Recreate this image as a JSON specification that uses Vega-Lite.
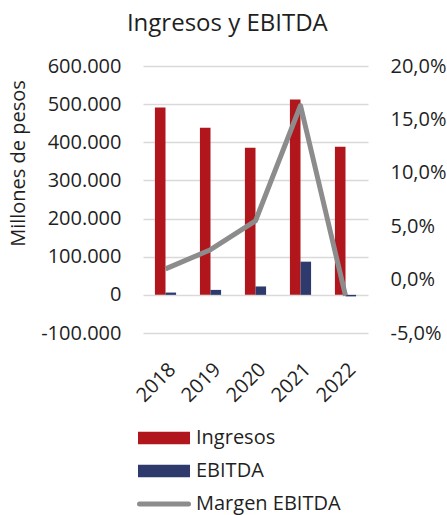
{
  "$schema": "https://vega.github.io/schema/vega-lite/v6.json",
  "autosize": "none",
  "width": 225,
  "height": 267,
  "padding": {"left": 143, "top": 66, "right": 79, "bottom": 182},
  "config": {
    "locale": {"number": {"decimal": ",", "thousands": ".", "grouping": [3], "currency": ["$", ""], "minus": "-"}},
    "font": "Open Sans",
    "view": {"stroke": null},
    "axis": {"labelFont": "Open Sans", "labelFontSize": 20, "labelColor": "#1f1f1f", "titleFont": "Open Sans", "titleFontSize": 20, "titleFontWeight": "normal", "titleColor": "#1f1f1f", "domain": false, "ticks": false}
  },
  "title": {"text": "Ingresos y EBITDA", "fontSize": 24, "fontWeight": "normal", "color": "#1f1f1f", "font": "Open Sans", "anchor": "middle", "frame": "bounds", "offset": 20},
  "datasets": {
    "barras": [
      {"anio": "2018", "serie": "Ingresos", "valor": 491000},
      {"anio": "2019", "serie": "Ingresos", "valor": 438000},
      {"anio": "2020", "serie": "Ingresos", "valor": 386000},
      {"anio": "2021", "serie": "Ingresos", "valor": 512000},
      {"anio": "2022", "serie": "Ingresos", "valor": 388000},
      {"anio": "2018", "serie": "EBITDA", "valor": 6000},
      {"anio": "2019", "serie": "EBITDA", "valor": 13000},
      {"anio": "2020", "serie": "EBITDA", "valor": 22000},
      {"anio": "2021", "serie": "EBITDA", "valor": 87000},
      {"anio": "2022", "serie": "EBITDA", "valor": -4000}
    ],
    "margen": [
      {"anio": "2018", "serie": "Margen EBITDA", "valor": 0.010},
      {"anio": "2019", "serie": "Margen EBITDA", "valor": 0.028},
      {"anio": "2020", "serie": "Margen EBITDA", "valor": 0.055},
      {"anio": "2021", "serie": "Margen EBITDA", "valor": 0.163},
      {"anio": "2022", "serie": "Margen EBITDA", "valor": -0.015}
    ]
  },
  "layer": [
    {
      "data": {"name": "barras"},
      "mark": {"type": "bar"},
      "encoding": {
        "x": {"field": "anio", "type": "nominal", "scale": {"paddingInner": 0.53, "paddingOuter": 0.265},
              "axis": {"title": null, "labelAngle": -45, "labelPadding": 26}},
        "xOffset": {"field": "serie", "type": "nominal", "sort": ["Ingresos", "EBITDA"], "scale": {"paddingInner": 0, "paddingOuter": 0}},
        "y": {"field": "valor", "type": "quantitative", "scale": {"domain": [-100000, 600000], "nice": false},
              "axis": {"title": "Millones de pesos", "titlePadding": 12, "titleY": 97, "labelPadding": 22, "grid": true, "gridColor": "#D9D9D9", "gridWidth": 1.5,
                       "values": [-100000, 0, 100000, 200000, 300000, 400000, 500000, 600000], "format": ",.0f"}},
        "color": {"field": "serie", "type": "nominal",
                  "scale": {"domain": ["Ingresos", "EBITDA", "Margen EBITDA"], "range": ["#B0161C", "#2E3A6B", "#8C8C8C"]},
                  "legend": {"orient": "none", "legendX": 11, "legendY": 362, "direction": "vertical", "title": null,
                             "labelFontSize": 20, "labelColor": "#1f1f1f", "labelFont": "Open Sans", "symbolSize": 100, "symbolStrokeWidth": 0, "rowPadding": 13, "labelOffset": 22,
                             "encode": {"symbols": {"update": {
                               "shape": {"signal": "datum.value === 'Margen EBITDA' ? 'M-4.9,0H4.9' : 'M-5.2,-1.25H5.2V1.25H-5.2Z'"},
                               "fill": {"signal": "datum.value === 'Margen EBITDA' ? 'transparent' : scale('color', datum.value)"},
                               "stroke": {"signal": "datum.value === 'Margen EBITDA' ? '#8C8C8C' : 'transparent'"},
                               "strokeWidth": {"signal": "datum.value === 'Margen EBITDA' ? 5 : 0"},
                               "strokeCap": {"value": "round"},
                               "opacity": {"value": 1}
                             }}}}}
      }
    },
    {
      "data": {"name": "margen"},
      "mark": {"type": "line", "strokeWidth": 5, "strokeJoin": "round", "strokeCap": "butt"},
      "encoding": {
        "x": {"field": "anio", "type": "nominal"},
        "y": {"field": "valor", "type": "quantitative", "scale": {"domain": [-0.05, 0.2], "nice": false},
              "axis": {"orient": "right", "title": null, "grid": false, "labelPadding": 22, "format": ".1%",
                       "values": [-0.05, 0, 0.05, 0.1, 0.15, 0.2]}},
        "color": {"field": "serie", "type": "nominal"}
      }
    }
  ],
  "resolve": {"scale": {"y": "independent"}}
}
